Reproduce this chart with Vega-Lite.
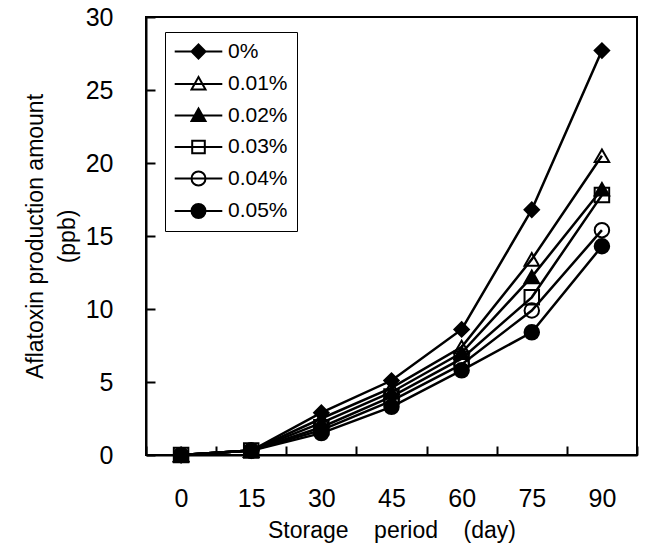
{
  "$schema": "https://vega.github.io/schema/vega-lite/v6.json",
  "width": 491,
  "height": 438,
  "autosize": {"type": "none"},
  "padding": {"left": 146, "top": 17, "right": 10, "bottom": 95},
  "background": "white",
  "config": {
    "font": "Liberation Sans",
    "view": {"stroke": "black", "strokeWidth": 2},
    "axis": {"grid": false, "domainColor": "black", "domainWidth": 2, "tickColor": "black", "tickWidth": 2, "labelColor": "black", "titleColor": "black", "labelFont": "Liberation Sans", "titleFont": "Liberation Sans", "labelFontSize": 25, "titleFontSize": 23, "titleFontWeight": "normal"}
  },
  "data": {
    "values": [
      {"day": "0", "series": "0%", "v": 0},
      {"day": "15", "series": "0%", "v": 0.3},
      {"day": "30", "series": "0%", "v": 2.9},
      {"day": "45", "series": "0%", "v": 5.1},
      {"day": "60", "series": "0%", "v": 8.6},
      {"day": "75", "series": "0%", "v": 16.8},
      {"day": "90", "series": "0%", "v": 27.7},
      {"day": "0", "series": "0.01%", "v": 0},
      {"day": "15", "series": "0.01%", "v": 0.3},
      {"day": "30", "series": "0.01%", "v": 2.5},
      {"day": "45", "series": "0.01%", "v": 4.6},
      {"day": "60", "series": "0.01%", "v": 7.4},
      {"day": "75", "series": "0.01%", "v": 13.4},
      {"day": "90", "series": "0.01%", "v": 20.5},
      {"day": "0", "series": "0.02%", "v": 0},
      {"day": "15", "series": "0.02%", "v": 0.3},
      {"day": "30", "series": "0.02%", "v": 2.2},
      {"day": "45", "series": "0.02%", "v": 4.3},
      {"day": "60", "series": "0.02%", "v": 7.0},
      {"day": "75", "series": "0.02%", "v": 12.2},
      {"day": "90", "series": "0.02%", "v": 18.2},
      {"day": "0", "series": "0.03%", "v": 0},
      {"day": "15", "series": "0.03%", "v": 0.3},
      {"day": "30", "series": "0.03%", "v": 1.9},
      {"day": "45", "series": "0.03%", "v": 4.0},
      {"day": "60", "series": "0.03%", "v": 6.6},
      {"day": "75", "series": "0.03%", "v": 10.8},
      {"day": "90", "series": "0.03%", "v": 17.8},
      {"day": "0", "series": "0.04%", "v": 0},
      {"day": "15", "series": "0.04%", "v": 0.3},
      {"day": "30", "series": "0.04%", "v": 1.7},
      {"day": "45", "series": "0.04%", "v": 3.7},
      {"day": "60", "series": "0.04%", "v": 6.2},
      {"day": "75", "series": "0.04%", "v": 9.9},
      {"day": "90", "series": "0.04%", "v": 15.4},
      {"day": "0", "series": "0.05%", "v": 0},
      {"day": "15", "series": "0.05%", "v": 0.3},
      {"day": "30", "series": "0.05%", "v": 1.5},
      {"day": "45", "series": "0.05%", "v": 3.3},
      {"day": "60", "series": "0.05%", "v": 5.8},
      {"day": "75", "series": "0.05%", "v": 8.4},
      {"day": "90", "series": "0.05%", "v": 14.3}
    ]
  },
  "encoding": {
    "x": {
      "field": "day", "type": "ordinal", "sort": ["0","15","30","45","60","75","90"],
      "scale": {"type": "band", "paddingInner": 0, "paddingOuter": 0},
      "axis": {"title": "Storage\u00a0\u00a0\u00a0\u00a0period\u00a0\u00a0\u00a0\u00a0(day)", "labelAngle": 0, "tickBand": "extent", "tickSize": -9, "labelPadding": 40, "titlePadding": 8, "domain": true}
    },
    "y": {
      "field": "v", "type": "quantitative",
      "scale": {"domain": [0, 30], "nice": false},
      "axis": {"title": ["Aflatoxin production amount", "(ppb)"], "values": [0,5,10,15,20,25,30], "tickSize": -9, "labelPadding": 42, "titlePadding": 6, "titleLineHeight": 32}
    }
  },
  "layer": [
    {
      "mark": {"type": "line", "color": "black", "strokeWidth": 2.5},
      "encoding": {"x": {"field": "day", "type": "ordinal", "sort": ["0","15","30","45","60","75","90"], "bandPosition": 0.5}, "detail": {"field": "series"}}
    },
    {
      "mark": {"type": "point", "stroke": "black", "strokeWidth": 2, "size": 210, "opacity": 1},
      "encoding": {
        "x": {"field": "day", "type": "ordinal", "sort": ["0","15","30","45","60","75","90"], "bandPosition": 0.5},
        "shape": {
          "field": "series", "type": "nominal",
          "scale": {"domain": ["0%","0.01%","0.02%","0.03%","0.04%","0.05%"], "range": ["diamond","triangle-up","triangle-up","square","circle","circle"]},
          "legend": null
        },
        "fill": {
          "field": "series", "type": "nominal",
          "scale": {"domain": ["0%","0.01%","0.02%","0.03%","0.04%","0.05%"], "range": ["black","transparent","black","transparent","transparent","black"]},
          "legend": null
        }
      }
    },
    {
      "transform": [{"filter": "datum.v < 0"}],
      "mark": {"type": "point", "stroke": "black", "strokeWidth": 2, "filled": false, "opacity": 1},
      "encoding": {
        "x": {"field": "day", "type": "ordinal", "sort": ["0","15","30","45","60","75","90"], "bandPosition": 0.5},
        "shape": {
          "field": "series", "type": "nominal",
          "scale": {"domain": ["0%","0.01%","0.02%","0.03%","0.04%","0.05%"], "range": [
            "M-3.4,0H3.4M0,-1L1,0L0,1L-1,0ZM0,-0.72L0.72,0L0,0.72L-0.72,0ZM0,-0.45L0.45,0L0,0.45L-0.45,0ZM0,-0.18L0.18,0L0,0.18L-0.18,0Z",
            "M-3.4,0H3.4M0,-1L1,0.8L-1,0.8Z",
            "M-3.4,0H3.4M0,-1L1,0.8L-1,0.8ZM0,-0.64L0.7,0.62L-0.7,0.62ZM0,-0.34L0.45,0.47L-0.45,0.47ZM0,-0.04L0.2,0.32L-0.2,0.32Z",
            "M-3.4,0H3.4M-0.9,-0.9H0.9V0.9H-0.9Z",
            "M-3.4,0H3.4M1,0A1,1,0,1,1,-1,0A1,1,0,1,1,1,0Z",
            "M-3.4,0H3.4M1,0A1,1,0,1,1,-1,0A1,1,0,1,1,1,0ZM0.75,0A0.75,0.75,0,1,1,-0.75,0A0.75,0.75,0,1,1,0.75,0ZM0.5,0A0.5,0.5,0,1,1,-0.5,0A0.5,0.5,0,1,1,0.5,0ZM0.25,0A0.25,0.25,0,1,1,-0.25,0A0.25,0.25,0,1,1,0.25,0Z"
          ]},
          "legend": {
            "title": null, "orient": "none", "legendX": 19, "legendY": 15,
            "strokeColor": "black", "fillColor": "white", "padding": 9,
            "labelFontSize": 21, "labelFont": "Liberation Sans", "labelColor": "black",
            "symbolSize": 196, "symbolOffset": 14, "labelOffset": 19, "rowPadding": 9.5,
            "symbolStrokeWidth": 2, "symbolStrokeColor": "black", "symbolOpacity": 1
          }
        }
      }
    }
  ],
  "resolve": {"scale": {"shape": "independent"}}
}
